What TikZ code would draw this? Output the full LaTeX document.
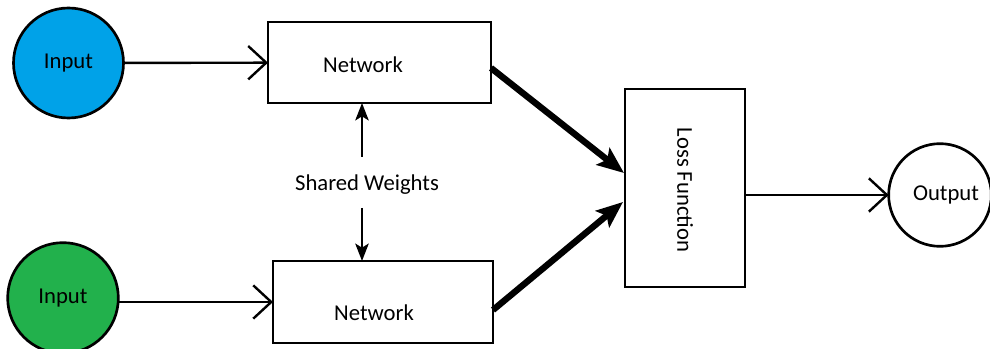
\documentclass[tikz,border=0pt]{standalone}
\usepackage{fontspec}
\setmainfont{Carlito}
\usetikzlibrary{arrows.meta,calc}

\begin{document}
\begin{tikzpicture}[x=0.75pt,y=0.75pt,yscale=-1,xscale=1,
  font=\fontsize{17}{20}\selectfont,
  box/.style={draw, line width=2.2pt, inner sep=0pt, outer sep=0pt},
  ball/.style={circle, draw, line width=2pt, inner sep=0pt, outer sep=0pt},
  feed/.style={line width=1.8pt, -{Straight Barb[length=13.5pt,width=25pt]}},
  heavy/.style={line width=4.8pt, -{Stealth[length=20pt,width=16pt,inset=4pt]}},
  share/.style={line width=2pt, -{Stealth[length=13pt,width=10pt,inset=3pt]}}]
\useasboundingbox (0,0) rectangle (990,349);

%Input Circles
\node (in1) [ball, fill={rgb, 255:red, 0; green, 162; blue, 232 }, minimum size=82.5pt] at (68.5,63) {Input};
\node (in2) [ball, fill={rgb, 255:red, 34; green, 177; blue, 76 }, minimum size=83pt] at (63,298) {Input};

%Network Boxes
\node (net1) [box, minimum width=167.25pt, minimum height=60.75pt] at (379.5,62.5) {};
\node (net2) [box, minimum width=165pt, minimum height=61.5pt] at (383,302) {};
\node (lbl1) at (363,65) {Network};
\node (lbl2) at (374,313) {Network};

%Loss Box
\node (loss) [box, minimum width=90pt, minimum height=148.5pt] at (685,188) {};
\node (lossl) [rotate=-90] at (685,190) {Loss Function};

%Output Circle
\node (out) [ball, minimum size=77pt] at (940,195) {};
\node (outl) at (946,195) {Output};

% Text Node
\node (sw) at (367,185) {Shared Weights};
\coordinate (wx) at (362,0);

%Straight Lines
\draw [feed] (in1) -- (net1);
\draw [feed] (net2.west -| in2.east) -- (net2.west);
\draw [feed] (loss.east |- out) -- (out);
\draw [heavy] ($(net1.east)+(0,5.5)$) -- ($(loss.west)+(-1,-15)$);
\draw [heavy] ($(net2.east)+(0,8)$) -- ($(loss.west)+(-2,14)$);
\draw [share] ($(sw)+(-5,-28)$) -- (net1.south -| wx);
\draw [share] ($(sw)+(-5,23)$) -- (net2.north -| wx);

\end{tikzpicture}
\end{document}
